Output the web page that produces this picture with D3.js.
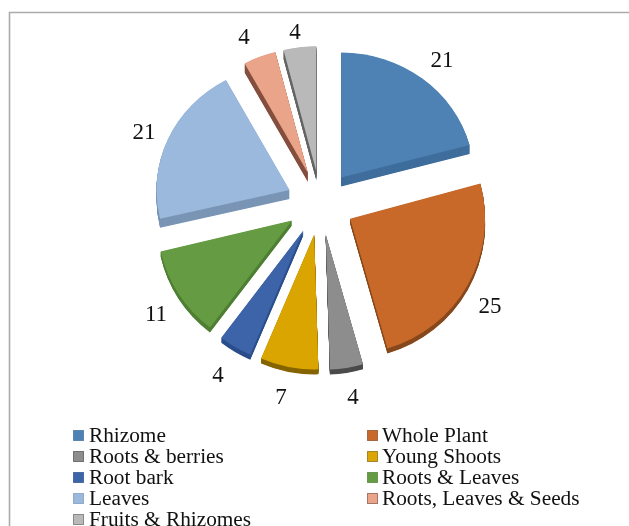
<!DOCTYPE html>
<html><head><meta charset="utf-8">
<script src="https://cdn.jsdelivr.net/npm/d3@7"></script>
<style>html,body{margin:0;padding:0;background:#fff;overflow:hidden}svg{display:block}text{font-family:"Liberation Serif",serif;fill:#111}</style>
</head><body><svg id="c" width="629" height="526"></svg>
<script>
const categories=["Rhizome","Whole Plant","Roots & berries","Young Shoots","Root bark","Roots & Leaves","Leaves","Roots, Leaves & Seeds","Fruits & Rhizomes"];
const values=[21,25,4,7,4,11,21,4,4];
const topColors=["#4F82B4","#C8692B","#8D8D8D","#DAA505","#3C64A8","#659B43","#9AB9DC","#EAA489","#B9B9B9"];
const wallColors=["#3F6E9C","#87481C","#4C4C4C","#866505","#2C4F8C","#4F7F33","#7A95B5","#85503D","#666666"];
const labelPos=[[442,67],[490,313],[353,404],[281,404],[218,382],[156,321],[144,139],[244,44],[295,39]];

const svg=d3.select("#c");
const defs=svg.append("defs");
defs.append("filter").attr("id","soft").append("feGaussianBlur").attr("stdDeviation",0.4);
svg.append("path").attr("d","M9.5,527V12.5H630").attr("fill","none").attr("stroke","#ABABAB").attr("stroke-width",1.6);

const cx=320.5,cy=203,explode=34;
const pie=d3.pie().sort(null).value(d=>d)(values);
const g=svg.append("g").attr("filter","url(#soft)");
pie.forEach((p,i)=>{
  const mid=(p.startAngle+p.endAngle)/2;
  // nearer slices look larger and show a thinner wall, as in the tilted original
  const near=Math.cos(mid)<0;
  const R=near?135:133, tilt=near?1:0.94, depth=near?5:9;
  const arc=d3.arc().innerRadius(0).outerRadius(R);
  const x=cx+explode*Math.sin(mid), y=cy-explode*Math.cos(mid)*0.94;
  const s=g.append("g");
  d3.range(depth,0,-0.5).forEach(k=>{
    s.append("path").attr("d",arc(p)).attr("fill",wallColors[i])
      .attr("transform",`translate(${x},${y+k}) scale(1,${tilt})`);
  });
  s.append("path").attr("d",arc(p)).attr("fill",topColors[i])
    .attr("transform",`translate(${x},${y}) scale(1,${tilt})`);
});
values.forEach((v,i)=>{
  svg.append("text").attr("x",labelPos[i][0]).attr("y",labelPos[i][1]).attr("text-anchor","middle")
    .attr("font-size",23).text(v);
});
const lg=svg.append("g");
categories.forEach((c,i)=>{
  const col=i%2,row=Math.floor(i/2);
  const x=col?367:73,y=430+row*21;
  lg.append("rect").attr("x",x+.5).attr("y",y+.5).attr("width",10).attr("height",10)
    .attr("fill",topColors[i]).attr("stroke",wallColors[i]).attr("stroke-opacity",.7);
  lg.append("text").attr("x",col?382:89).attr("y",y+11.5).attr("font-size",21.3).text(c);
});
</script></body></html>
